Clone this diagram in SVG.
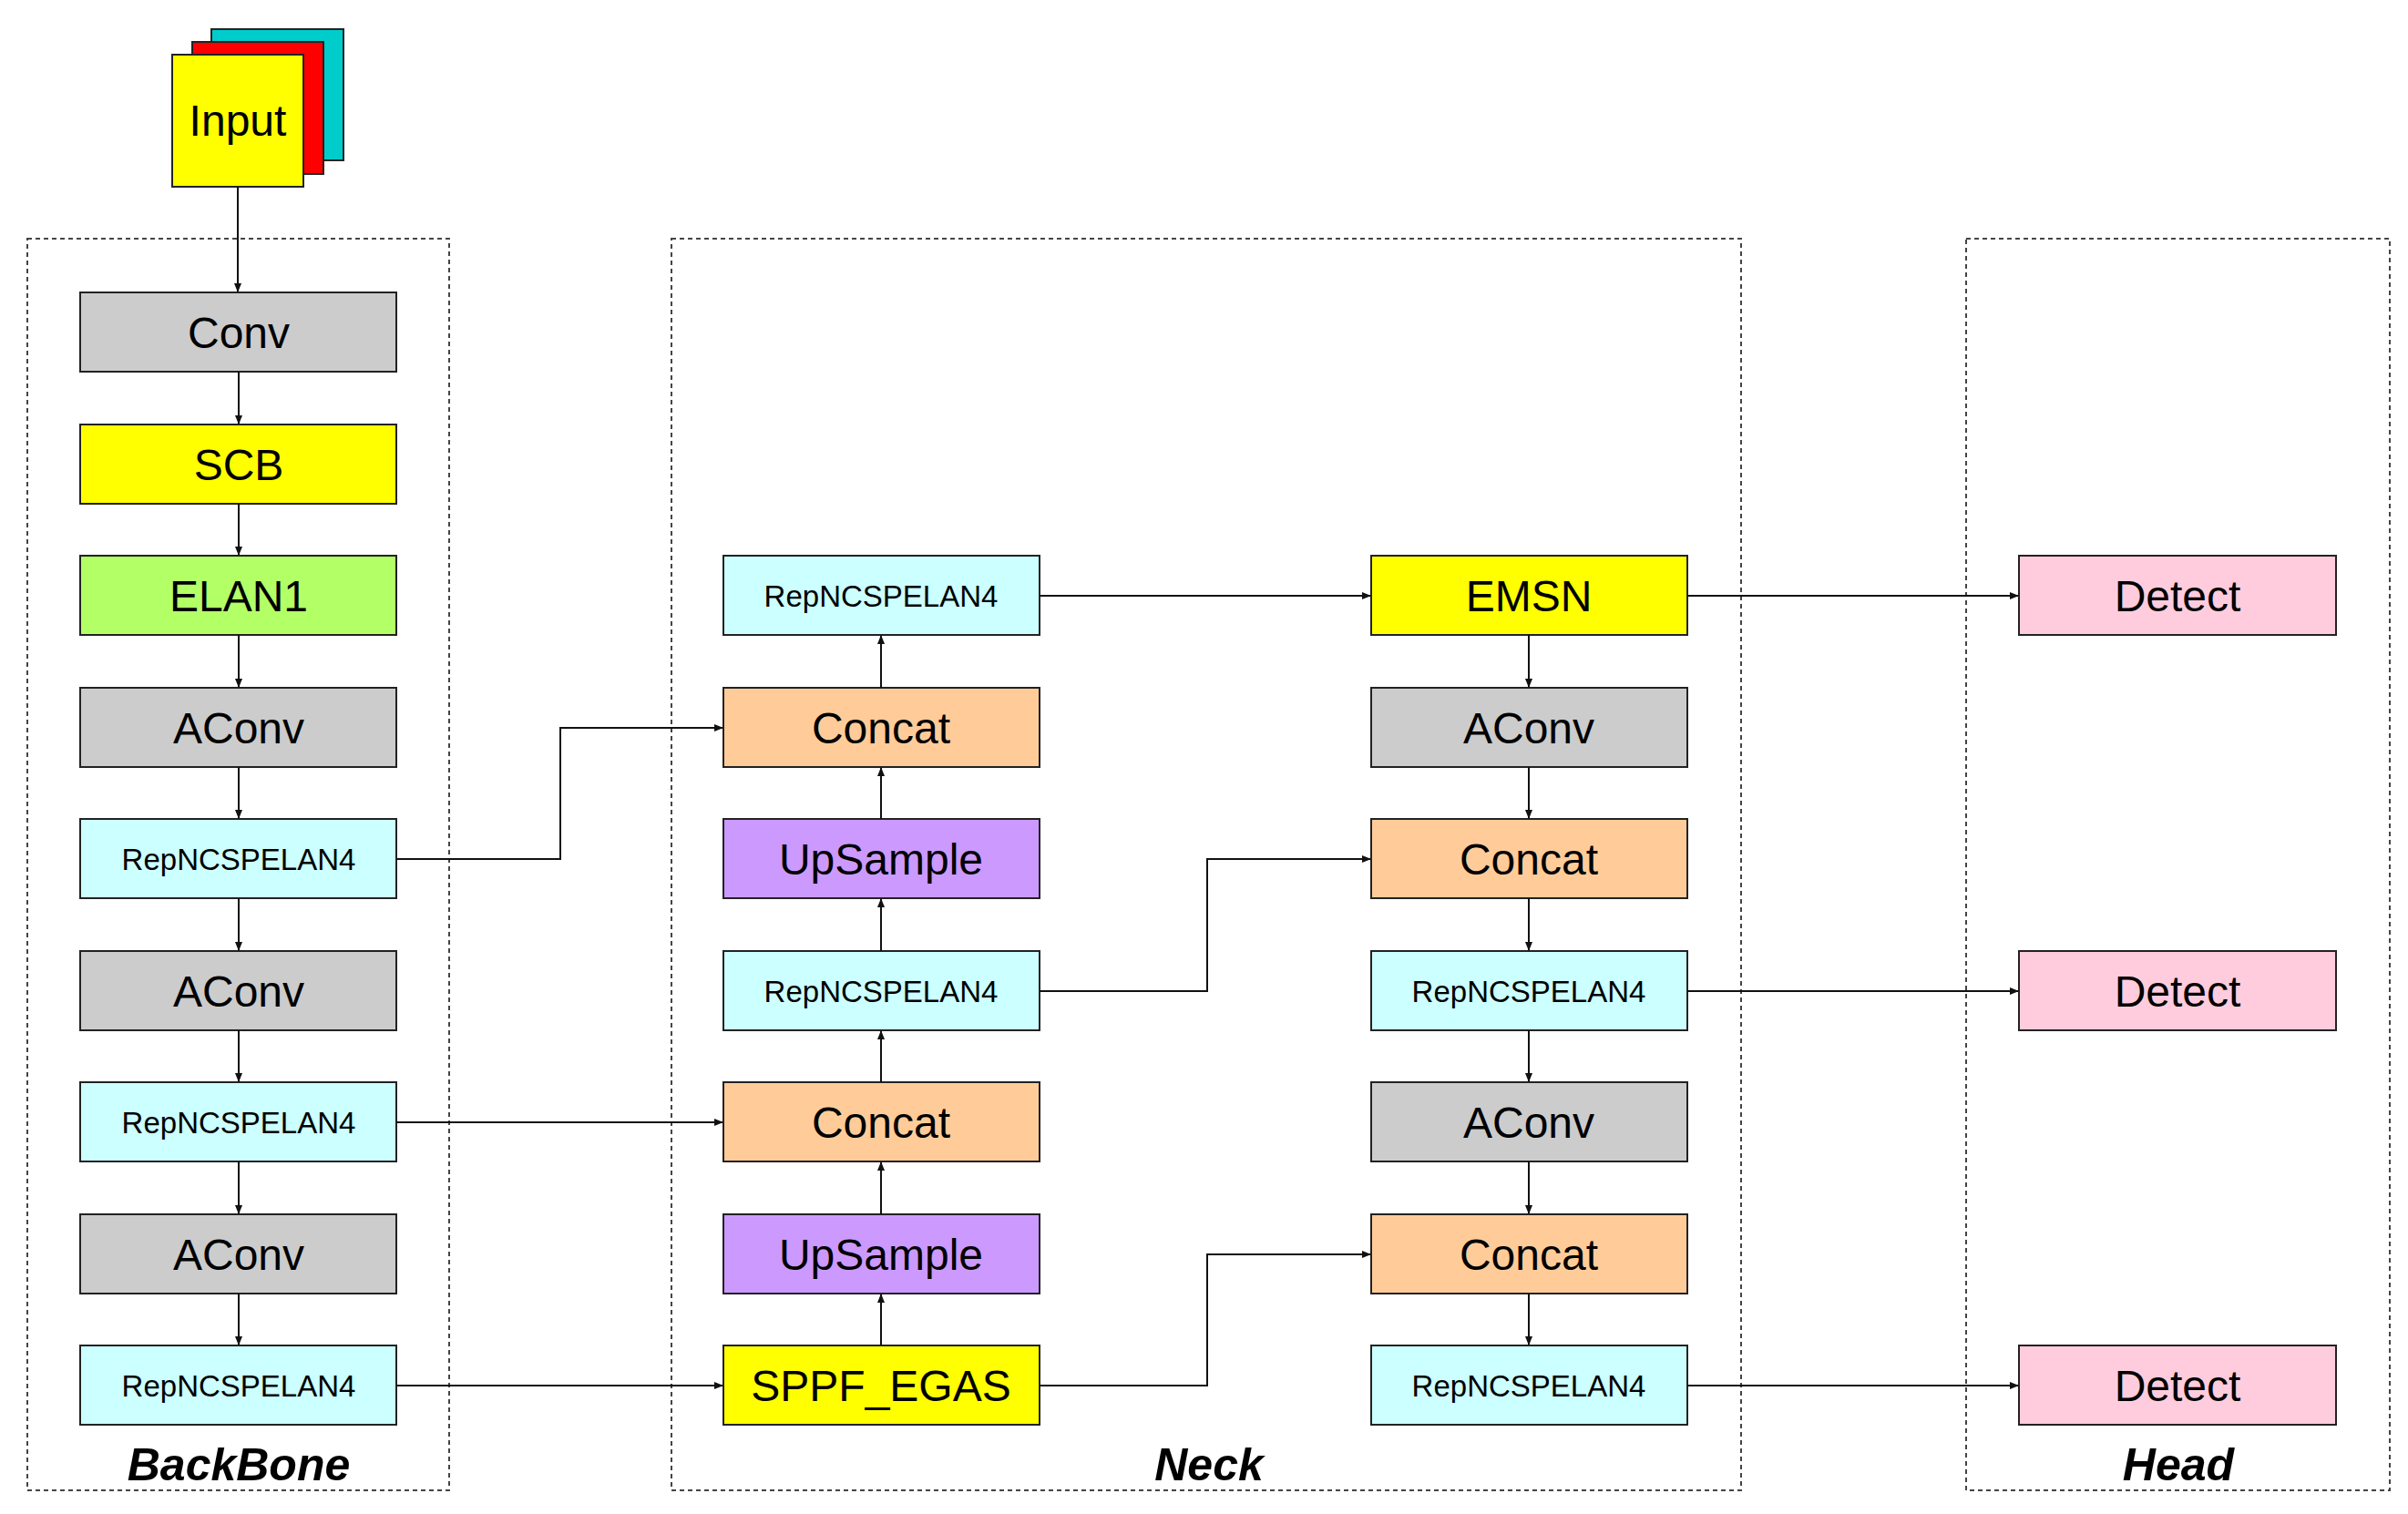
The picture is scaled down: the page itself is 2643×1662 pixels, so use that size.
<svg xmlns="http://www.w3.org/2000/svg" width="2643" height="1662" viewBox="0 0 2643 1662">
<style>
.b{stroke:#222;stroke-width:2}
.t{font-family:"Liberation Sans",Arial,sans-serif;font-size:48px;text-anchor:middle;dominant-baseline:central;fill:#000}
.s{font-size:33px}
.g{fill:none;stroke:#444;stroke-width:2;stroke-dasharray:5,4}
.c path{fill:none;stroke:#111;stroke-width:2;marker-end:url(#a)}
.l{font-family:"Liberation Sans",Arial,sans-serif;font-size:50px;font-weight:bold;font-style:italic;text-anchor:middle}
.gray{fill:#cccccc}.yel{fill:#ffff00}.grn{fill:#b3ff66}.cy{fill:#ccffff}.or{fill:#ffcc99}.pu{fill:#cc99ff}.pk{fill:#ffccdd}
</style>
<defs><marker id="a" markerWidth="10" markerHeight="10" refX="9" refY="5" orient="auto" markerUnits="userSpaceOnUse"><path d="M0,1 L10,5 L0,9 Z" fill="#111"/></marker></defs>
<rect width="2643" height="1662" fill="#fff"/>
<g id="groups">
<rect class="g" x="30" y="262" width="463" height="1374"/>
<rect class="g" x="737" y="262" width="1174" height="1374"/>
<rect class="g" x="2158" y="262" width="465" height="1374"/>
<text class="l" x="262" y="1625">BackBone</text>
<text class="l" x="1327" y="1625">Neck</text>
<text class="l" x="2391" y="1625">Head</text>
</g>
<g id="input">
<rect class="b" x="232" y="32" width="145" height="144" fill="#00cccc"/>
<rect class="b" x="211" y="46" width="144" height="145" fill="#ff0000"/>
<rect class="b yel" x="189" y="60" width="144" height="145"/>
<text class="t" x="261" y="132">Input</text>
</g>
<g id="b0"><rect class="b gray" x="88" y="321" width="347" height="87"/><text class="t" x="262" y="365">Conv</text></g>
<g id="b1"><rect class="b yel" x="88" y="466" width="347" height="87"/><text class="t" x="262" y="510">SCB</text></g>
<g id="b2"><rect class="b grn" x="88" y="610" width="347" height="87"/><text class="t" x="262" y="654">ELAN1</text></g>
<g id="b3"><rect class="b gray" x="88" y="755" width="347" height="87"/><text class="t" x="262" y="799">AConv</text></g>
<g id="b4"><rect class="b cy" x="88" y="899" width="347" height="87"/><text class="t s" x="262" y="943">RepNCSPELAN4</text></g>
<g id="b5"><rect class="b gray" x="88" y="1044" width="347" height="87"/><text class="t" x="262" y="1088">AConv</text></g>
<g id="b6"><rect class="b cy" x="88" y="1188" width="347" height="87"/><text class="t s" x="262" y="1232">RepNCSPELAN4</text></g>
<g id="b7"><rect class="b gray" x="88" y="1333" width="347" height="87"/><text class="t" x="262" y="1377">AConv</text></g>
<g id="b8"><rect class="b cy" x="88" y="1477" width="347" height="87"/><text class="t s" x="262" y="1521">RepNCSPELAN4</text></g>
<g id="n2"><rect class="b cy" x="794" y="610" width="347" height="87"/><text class="t s" x="967" y="654">RepNCSPELAN4</text></g>
<g id="n3"><rect class="b or" x="794" y="755" width="347" height="87"/><text class="t" x="967" y="799">Concat</text></g>
<g id="n4"><rect class="b pu" x="794" y="899" width="347" height="87"/><text class="t" x="967" y="943">UpSample</text></g>
<g id="n5"><rect class="b cy" x="794" y="1044" width="347" height="87"/><text class="t s" x="967" y="1088">RepNCSPELAN4</text></g>
<g id="n6"><rect class="b or" x="794" y="1188" width="347" height="87"/><text class="t" x="967" y="1232">Concat</text></g>
<g id="n7"><rect class="b pu" x="794" y="1333" width="347" height="87"/><text class="t" x="967" y="1377">UpSample</text></g>
<g id="n8"><rect class="b yel" x="794" y="1477" width="347" height="87"/><text class="t" x="967" y="1521">SPPF_EGAS</text></g>
<g id="m2"><rect class="b yel" x="1505" y="610" width="347" height="87"/><text class="t" x="1678" y="654">EMSN</text></g>
<g id="m3"><rect class="b gray" x="1505" y="755" width="347" height="87"/><text class="t" x="1678" y="799">AConv</text></g>
<g id="m4"><rect class="b or" x="1505" y="899" width="347" height="87"/><text class="t" x="1678" y="943">Concat</text></g>
<g id="m5"><rect class="b cy" x="1505" y="1044" width="347" height="87"/><text class="t s" x="1678" y="1088">RepNCSPELAN4</text></g>
<g id="m6"><rect class="b gray" x="1505" y="1188" width="347" height="87"/><text class="t" x="1678" y="1232">AConv</text></g>
<g id="m7"><rect class="b or" x="1505" y="1333" width="347" height="87"/><text class="t" x="1678" y="1377">Concat</text></g>
<g id="m8"><rect class="b cy" x="1505" y="1477" width="347" height="87"/><text class="t s" x="1678" y="1521">RepNCSPELAN4</text></g>
<g id="h2"><rect class="b pk" x="2216" y="610" width="348" height="87"/><text class="t" x="2390" y="654">Detect</text></g>
<g id="h5"><rect class="b pk" x="2216" y="1044" width="348" height="87"/><text class="t" x="2390" y="1088">Detect</text></g>
<g id="h8"><rect class="b pk" x="2216" y="1477" width="348" height="87"/><text class="t" x="2390" y="1521">Detect</text></g>
<g id="connectors" class="c">
<path d="M261,205 V320"/>
<path d="M262,408 V465"/><path d="M262,553 V609"/><path d="M262,697 V754"/><path d="M262,842 V898"/>
<path d="M262,986 V1043"/><path d="M262,1131 V1187"/><path d="M262,1275 V1332"/><path d="M262,1420 V1476"/>
<path d="M435,943 H615 V799 H793"/>
<path d="M435,1232 H793"/>
<path d="M435,1521 H793"/>
<path d="M967,1477 V1421"/><path d="M967,1333 V1276"/><path d="M967,1188 V1132"/><path d="M967,1044 V987"/><path d="M967,899 V843"/><path d="M967,755 V698"/>
<path d="M1141,654 H1504"/>
<path d="M1141,1088 H1325 V943 H1504"/>
<path d="M1141,1521 H1325 V1377 H1504"/>
<path d="M1678,697 V754"/><path d="M1678,842 V898"/><path d="M1678,986 V1043"/><path d="M1678,1131 V1187"/><path d="M1678,1275 V1332"/><path d="M1678,1420 V1476"/>
<path d="M1852,654 H2215"/><path d="M1852,1088 H2215"/><path d="M1852,1521 H2215"/>
</g>
</svg>
